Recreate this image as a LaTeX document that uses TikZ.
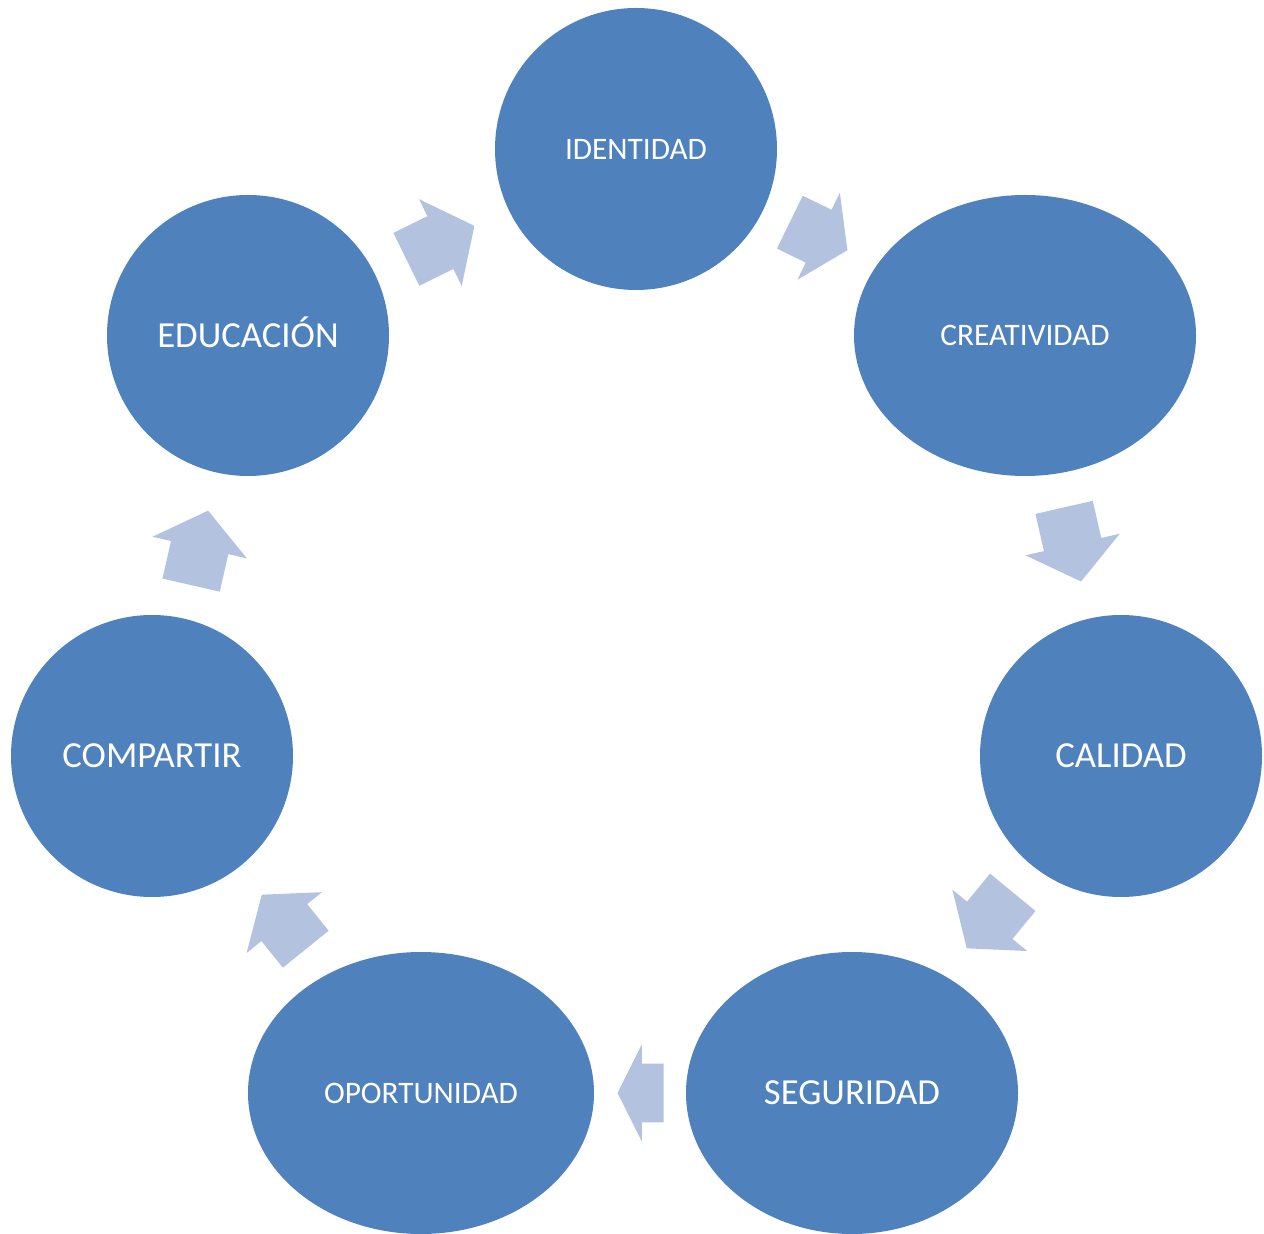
\documentclass[tikz,border=0pt]{standalone}
\usepackage{fontspec}
\setmainfont{Carlito}
\usetikzlibrary{shapes.geometric,shapes.arrows}
\definecolor{circblue}{HTML}{4F81BD}
\definecolor{arrblue}{HTML}{B3C2DE}
\begin{document}
\begin{tikzpicture}[x=0.5pt,y=-0.5pt,
  circ/.style={ellipse, fill=circblue, draw=none, inner sep=0pt, text=white},
  smalltxt/.style={font=\fontsize{15.65}{18}\selectfont, text height=10.1pt, text depth=0pt},
  bigtxt/.style={font=\fontsize{18.35}{22}\selectfont, text height=11.8pt, text depth=0pt},
  flow/.style={single arrow, fill=arrblue, draw=none, inner xsep=0pt, inner ysep=14.5pt,
    minimum width=48pt, single arrow head extend=9.5pt, anchor=tail}
]
\useasboundingbox (0,0) rectangle (1264,1234);

\node[circ, smalltxt, minimum width=141pt, minimum height=141pt] (identidad) at (636,149) {IDENTIDAD};
\node[circ, smalltxt, minimum width=171pt, minimum height=140.5pt] (creatividad) at (1025,335.5) {CREATIVIDAD};
\node[circ, bigtxt, minimum width=141pt, minimum height=141pt] (calidad) at (1121,756) {CALIDAD};
\node[circ, bigtxt, minimum width=166pt, minimum height=141pt] (seguridad) at (852,1093) {SEGURIDAD};
\node[circ, smalltxt, minimum width=173pt, minimum height=141pt] (oportunidad) at (421,1093) {OPORTUNIDAD};
\node[circ, bigtxt, minimum width=141pt, minimum height=141pt] (compartir) at (152,756) {COMPARTIR};
\node[circ, bigtxt, minimum width=141pt, minimum height=140.5pt] (educacion) at (248,335.5) {EDUCACIÓN};

\node[flow, rotate=26.2, minimum height=37.9pt, single arrow tip angle=103.9] (a1) at (406,259.5) {};
\node[flow, rotate=-26, minimum height=32pt, single arrow tip angle=113.1] (a2) at (789.5,222) {};
\node[flow, rotate=-77.1, minimum height=38pt, single arrow tip angle=103.9] (a3) at (1064,507) {};
\node[flow, rotate=-129.4, minimum height=36.25pt, single arrow tip angle=106.3] (a4) at (1013,892) {};
\node[flow, rotate=180, minimum height=23pt, single arrow tip angle=126.9] (a5) at (664,1093) {};
\node[flow, rotate=128.9, minimum height=35pt, single arrow tip angle=107] (a6) at (306,949.5) {};
\node[flow, rotate=77.1, minimum height=38.2pt, single arrow tip angle=103.9] (a7) at (191,585.5) {};
\end{tikzpicture}
\end{document}
